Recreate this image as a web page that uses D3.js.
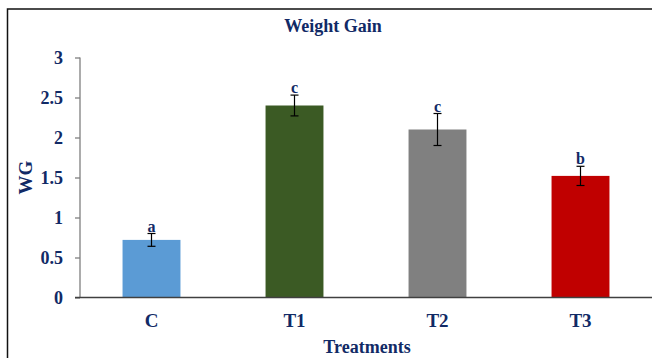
<!DOCTYPE html>
<html>
<head>
<meta charset="utf-8">
<script src="https://cdn.jsdelivr.net/npm/d3@7"></script>
<style>
  body { margin: 0; background: #fff; }
  text { font-family: "Liberation Serif", "Times New Roman", serif; font-weight: bold; fill: #112a66; }
</style>
</head>
<body>
<script>
// Chart data
var treatments = ["C", "T1", "T2", "T3"];
var wgValues = [0.72, 2.40, 2.10, 1.52];
var wgErrors = [0.08, 0.13, 0.20, 0.12];
var sigLetters = ["a", "c", "c", "b"];
var barColors = ["#5b9bd5", "#3b5a24", "#808080", "#c00000"];
var yTicks = [0, 0.5, 1, 1.5, 2, 2.5, 3];

var width = 652, height = 358;

// Plot area
var margin = {top: 57.5, right: 0, bottom: 60.5, left: 80},
    plotW = width - margin.left - margin.right,
    plotH = height - margin.top - margin.bottom;

var svg = d3.select("body")
    .append("svg")
        .attr("width", width)
        .attr("height", height);

// outer frame (right and bottom run off the picture)
svg.append("rect")
    .attr("x", 7.5)
    .attr("y", 9)
    .attr("width", 700)
    .attr("height", 400)
    .attr("fill", "none")
    .attr("stroke", "#111")
    .attr("stroke-width", 1.5);

// Title
svg.append("text")
    .attr("x", 333)
    .attr("y", 32)
    .attr("text-anchor", "middle")
    .style("font-size", "18px")
    .text("Weight Gain");

var g = svg.append("g")
    .attr("transform", "translate(" + margin.left + "," + margin.top + ")");

// Scales
var xScale = d3.scaleBand()
    .domain(treatments)
    .range([0, plotW])
    .paddingInner(0.595)
    .paddingOuter(0.2975);
var yScale = d3.scaleLinear().domain([0, 3]).range([plotH, 0]);

// Y axis
var yAxis = g.append("g")
    .attr("class", "y axis")
    .call(d3.axisLeft(yScale).tickValues(yTicks).tickSize(5).tickPadding(12)
        .tickFormat(function (d) { return String(d); }));
yAxis.select(".domain").attr("stroke", "#7f7f7f").attr("stroke-width", 1.3)
    .attr("d", "M0," + plotH + "V0");
yAxis.selectAll(".tick line").attr("stroke", "#7f7f7f").attr("stroke-width", 1.3);
yAxis.selectAll("text")
    .style("font-size", "18px")
    .attr("fill", "#112a66")
    .attr("dy", "0.33em");

// Bars
g.selectAll(".bar")
    .data(wgValues)
    .enter().append("rect")
    .attr("class", "bar")
    .attr("x", function (d, i) { return xScale(treatments[i]); })
    .attr("y", function (d) { return yScale(d); })
    .attr("width", xScale.bandwidth())
    .attr("height", function (d) { return plotH - yScale(d); })
    .attr("fill", function (d, i) { return barColors[i]; });

// X axis line
g.append("line")
    .attr("x1", -5).attr("x2", plotW)
    .attr("y1", plotH).attr("y2", plotH)
    .attr("stroke", "#404040")
    .attr("stroke-width", 1.5);

// Category labels
g.selectAll(".cat")
    .data(treatments)
    .enter().append("text")
    .attr("class", "cat")
    .attr("x", function (d) { return xScale(d) + xScale.bandwidth() / 2; })
    .attr("y", plotH + 29)
    .attr("text-anchor", "middle")
    .style("font-size", "19px")
    .text(function (d) { return d; });

// Error bars
var errs = g.selectAll(".err")
    .data(wgValues)
    .enter().append("g")
    .attr("class", "err")
    .attr("stroke", "#000")
    .attr("stroke-width", 1.2);
errs.append("line")
    .attr("x1", function (d, i) { return xScale(treatments[i]) + xScale.bandwidth() / 2; })
    .attr("x2", function (d, i) { return xScale(treatments[i]) + xScale.bandwidth() / 2; })
    .attr("y1", function (d, i) { return yScale(d + wgErrors[i]); })
    .attr("y2", function (d, i) { return yScale(d - wgErrors[i]); });
errs.selectAll(".cap")
    .data(function (d, i) { return [[i, d + wgErrors[i]], [i, d - wgErrors[i]]]; })
    .enter().append("line")
    .attr("x1", function (d) { return xScale(treatments[d[0]]) + xScale.bandwidth() / 2 - 4; })
    .attr("x2", function (d) { return xScale(treatments[d[0]]) + xScale.bandwidth() / 2 + 4; })
    .attr("y1", function (d) { return yScale(d[1]); })
    .attr("y2", function (d) { return yScale(d[1]); });

// Significance letters
g.selectAll(".sig")
    .data(sigLetters)
    .enter().append("text")
    .attr("class", "sig")
    .attr("x", function (d, i) { return xScale(treatments[i]) + xScale.bandwidth() / 2; })
    .attr("y", function (d, i) { return yScale(wgValues[i] + wgErrors[i]) - 2; })
    .attr("text-anchor", "middle")
    .style("font-size", "16px")
    .text(function (d) { return d; });

// Axis titles
svg.append("text")
    .attr("x", 367)
    .attr("y", 352.5)
    .attr("text-anchor", "middle")
    .style("font-size", "18px")
    .text("Treatments");

svg.append("text")
    .attr("transform", "translate(31.5,177.5) rotate(-90)")
    .attr("text-anchor", "middle")
    .style("font-size", "19px")
    .text("WG");
</script>
</body>
</html>
